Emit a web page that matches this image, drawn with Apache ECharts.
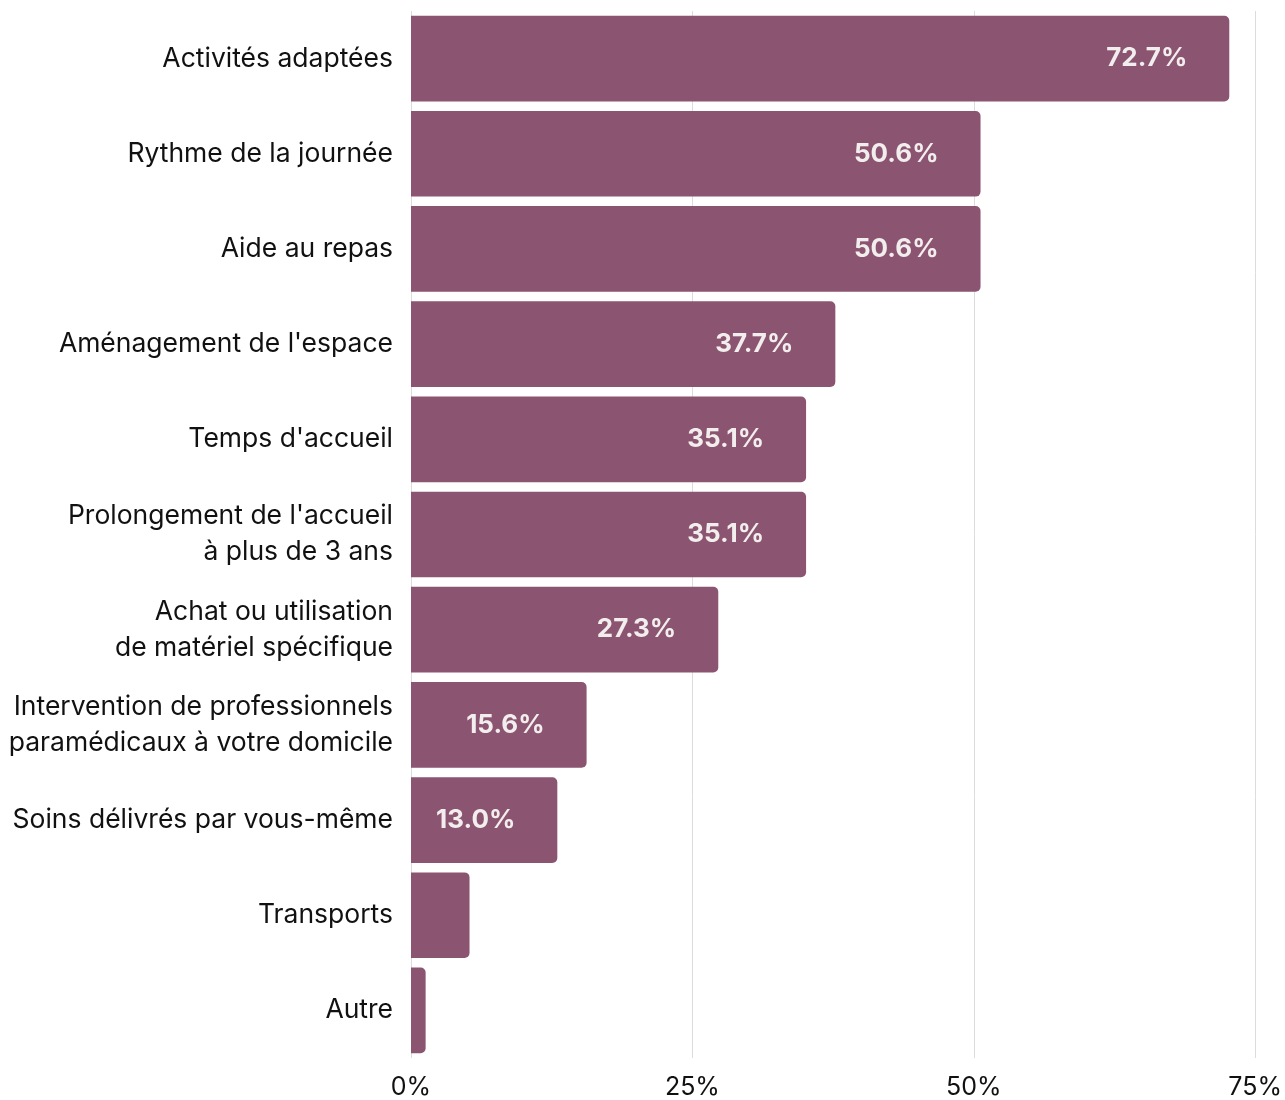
<!DOCTYPE html>
<html>
<head>
<meta charset="utf-8">
<script src="https://cdn.jsdelivr.net/npm/echarts@6/dist/echarts.min.js"></script>
<style>
html,body{margin:0;padding:0;background:#fff;}
#chart{width:1285px;height:1100px;}
</style>
</head>
<body>
<div id="chart"></div>
<script>
const categories = [
  "Activités adaptées",
  "Rythme de la journée",
  "Aide au repas",
  "Aménagement de l'espace",
  "Temps d'accueil",
  "Prolongement de l'accueil\nà plus de 3 ans",
  "Achat ou utilisation\nde matériel spécifique",
  "Intervention de professionnels\nparamédicaux à votre domicile",
  "Soins délivrés par vous-même",
  "Transports",
  "Autre"
];
const values = [72.7, 50.6, 50.6, 37.7, 35.1, 35.1, 27.3, 15.6, 13.0, 5.2, 1.3];
const showLabel = [true, true, true, true, true, true, true, true, true, false, false];
const xTicks = [0, 25, 50, 75];

const FONT = "Inter, 'Open Sans', sans-serif";
const chart = echarts.init(document.getElementById('chart'));
chart.setOption({
  animation: false,
  backgroundColor: '#ffffff',
  grid: {left: 411, right: 27, top: 11, bottom: 38, containLabel: false},
  xAxis: {
    type: 'value',
    min: xTicks[0],
    max: xTicks[xTicks.length - 1],
    interval: 25,
    axisLine: {show: false},
    axisTick: {show: false},
    splitLine: {show: true, lineStyle: {color: '#dcdcdc', width: 1}},
    axisLabel: {
      formatter: v => v + '%',
      color: '#111', fontSize: 25, fontFamily: FONT, margin: 17
    }
  },
  yAxis: {
    type: 'category',
    data: categories,
    inverse: true,
    axisLine: {show: false},
    axisTick: {show: false},
    splitLine: {show: false},
    axisLabel: {
      color: '#111', fontSize: 26.5, fontFamily: FONT, margin: 18,
      lineHeight: 36, align: 'right'
    }
  },
  series: [{
    type: 'bar',
    data: values.map((v, i) => ({
      value: v,
      label: {show: showLabel[i]}
    })),
    barCategoryGap: '10%',
    itemStyle: {color: '#8b5470', borderRadius: [0, 5, 5, 0]},
    label: {
      position: 'insideRight',
      distance: 42,
      formatter: p => p.value.toFixed(1) + '%',
      color: '#f3eeee',
      fontSize: 26,
      fontWeight: 'bold',
      fontFamily: FONT
    }
  }]
});
</script>
</body>
</html>
